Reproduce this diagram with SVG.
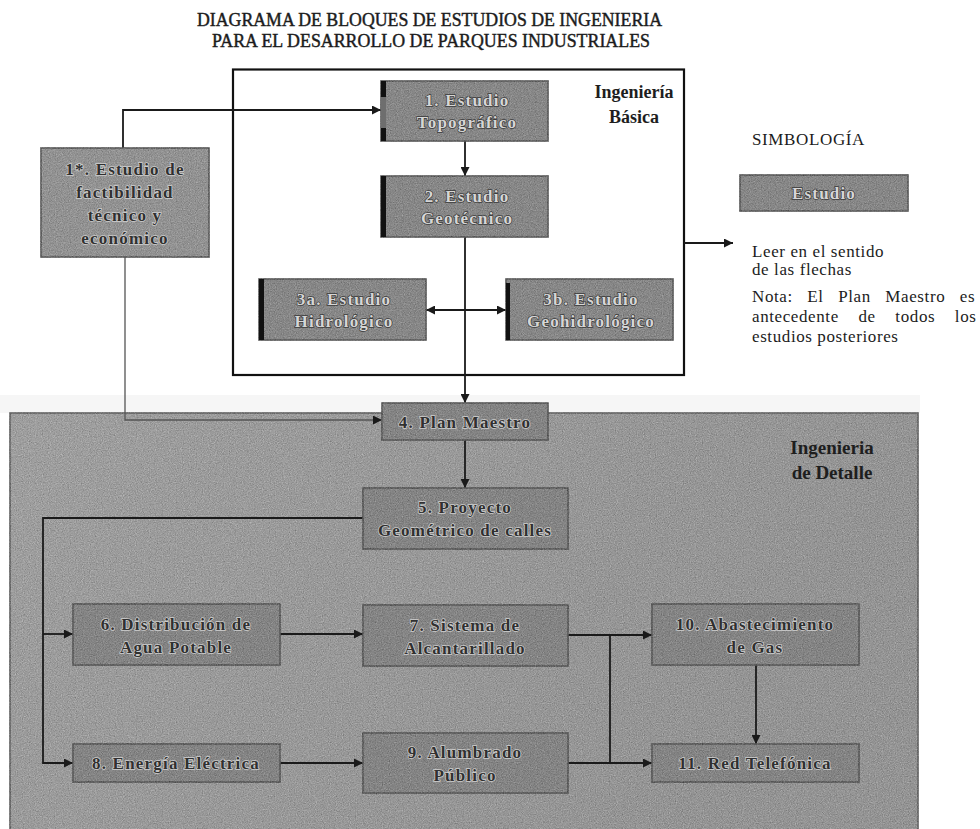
<svg xmlns="http://www.w3.org/2000/svg" width="980" height="829" viewBox="0 0 980 829">
  <style>
    .title { font-family: "Liberation Serif", "DejaVu Serif", serif; font-size: 19px; fill: #1c1c1c; stroke: #1c1c1c; stroke-width: 0.45px; }
    .legend { font-family: "Liberation Serif", "DejaVu Serif", serif; font-size: 17px; fill: #1c1c1c; letter-spacing: 0.6px; }
    .zone { font-family: "Liberation Serif", "DejaVu Serif", serif; font-weight: bold; font-size: 19px; fill: #1e1e1e; text-anchor: middle; }
    .box { stroke: #4a4a4a; stroke-width: 1.5; }
    .top { fill: #8a8a8a; }
    .low { fill: #858585; }
    .pale { fill: #999999; }
    .bar { fill: #111111; }
    .lbl { font-family: "Liberation Serif", "DejaVu Serif", serif; font-weight: bold; font-size: 17px; letter-spacing: 1.2px; text-anchor: middle; paint-order: stroke; }
    .lt { fill: #d6d6d6; stroke: #3a3a3a; stroke-width: 1.4px; }
    .dk { fill: #303030; stroke: #cfcfcf; stroke-width: 1.5px; }
    .wire { fill: none; stroke: #1a1a1a; stroke-width: 1.8; }
    .thin { fill: none; stroke: #555555; stroke-width: 1.3; }
  </style>
  <defs>
    <marker id="ah" viewBox="0 0 10 10" refX="10" refY="5" markerWidth="10" markerHeight="9" markerUnits="userSpaceOnUse" orient="auto-start-reverse">
      <path d="M0,0 L10,5 L0,10 z" fill="#1a1a1a"/>
    </marker>
    <filter id="grain" color-interpolation-filters="sRGB">
      <feTurbulence type="fractalNoise" baseFrequency="0.85" numOctaves="2" seed="7" result="noise"/>
      <feColorMatrix in="noise" type="matrix" values="0.6 0.6 0.6 0 -0.4  0.6 0.6 0.6 0 -0.4  0.6 0.6 0.6 0 -0.4  0 0 0 0 0.28" result="gray"/>
      <feComposite in="gray" in2="SourceGraphic" operator="in" result="speck"/>
      <feMerge><feMergeNode in="SourceGraphic"/><feMergeNode in="speck"/></feMerge>
    </filter>
    <linearGradient id="panelFill" x1="0" y1="0" x2="1" y2="0.3">
      <stop offset="0" stop-color="#aaaaaa"/>
      <stop offset="0.5" stop-color="#a2a2a2"/>
      <stop offset="1" stop-color="#9b9b9b"/>
    </linearGradient>
  </defs>

  <rect width="980" height="829" fill="#ffffff"/>

  <!-- title -->
  <g id="title">
    <text class="title" x="197" y="26" textLength="465" lengthAdjust="spacingAndGlyphs">DIAGRAMA DE BLOQUES DE ESTUDIOS DE INGENIERIA</text>
    <text class="title" x="212" y="47" textLength="438" lengthAdjust="spacingAndGlyphs">PARA EL DESARROLLO DE PARQUES INDUSTRIALES</text>
  </g>

  <!-- detail engineering panel -->
  <g id="zone-detalle">
    <rect x="0" y="395" width="920" height="18" fill="#f6f6f6"/>
    <rect x="10" y="413" width="908" height="430" fill="url(#panelFill)" stroke="#555" stroke-width="1.5" filter="url(#grain)"/>
    <text class="zone" x="832" y="454">Ingenieria</text>
    <text class="zone" x="832" y="479">de Detalle</text>
  </g>

  <!-- basic engineering frame -->
  <g id="zone-basica">
    <rect x="233" y="69.5" width="451" height="305.5" fill="none" stroke="#111" stroke-width="2.2"/>
    <text class="zone" x="634" y="98" style="font-size:18px">Ingeniería</text>
    <text class="zone" x="634" y="123" style="font-size:18px">Básica</text>
  </g>

  <!-- connectors -->
  <g id="connectors">
    <path class="wire" d="M123,148 V110 H381" marker-end="url(#ah)"/>
    <path class="thin" d="M125,257 V420 H382" marker-end="url(#ah)"/>
    <path class="wire" d="M465,141 V176" marker-end="url(#ah)"/>
    <path class="wire" d="M465,237 V403" marker-end="url(#ah)"/>
    <path class="wire" d="M426,310 H506" marker-start="url(#ah)" marker-end="url(#ah)"/>
    <path class="wire" d="M465,440 V488" marker-end="url(#ah)"/>
    <path class="wire" d="M363,518 H43 V763 H73" marker-end="url(#ah)"/>
    <path class="wire" d="M43,634 H73" marker-end="url(#ah)"/>
    <path class="wire" d="M280,634 H363" marker-end="url(#ah)"/>
    <path class="wire" d="M280,763 H363" marker-end="url(#ah)"/>
    <path class="wire" d="M568,635 H652" marker-end="url(#ah)"/>
    <path class="wire" d="M568,763 H652" marker-end="url(#ah)"/>
    <path class="wire" d="M610,635 V763"/>
    <path class="wire" d="M756,665 V744" marker-end="url(#ah)"/>
    <path class="wire" d="M684,243 H733" marker-end="url(#ah)"/>
  </g>

  <!-- 1*. feasibility study -->
  <g id="n1s">
    <rect class="box pale" x="41" y="148" width="168" height="109" filter="url(#grain)"/>
    <text class="lbl dk" x="125" y="175">1*. Estudio de</text>
    <text class="lbl dk" x="125" y="198">factibilidad</text>
    <text class="lbl dk" x="125" y="221">técnico y</text>
    <text class="lbl dk" x="125" y="244">económico</text>
  </g>

  <!-- 1. topographic study -->
  <g id="n1">
    <rect class="box top" x="381" y="81" width="167" height="60" filter="url(#grain)"/>
    <rect class="bar" x="381" y="81" width="5" height="16"/>
    <rect x="381" y="97" width="5" height="31" fill="#6e6e6e"/>
    <rect class="bar" x="381" y="128" width="5" height="13"/>
    <text class="lbl lt" x="467" y="106">1. Estudio</text>
    <text class="lbl lt" x="467" y="128">Topográfico</text>
  </g>

  <!-- 2. geotechnical study -->
  <g id="n2">
    <rect class="box top" x="381" y="176" width="167" height="61" filter="url(#grain)"/>
    <rect class="bar" x="381" y="176" width="5" height="61"/>
    <text class="lbl lt" x="467" y="202">2. Estudio</text>
    <text class="lbl lt" x="467" y="224">Geotécnico</text>
  </g>

  <!-- 3a. hydrological study -->
  <g id="n3a">
    <rect class="box top" x="259" y="279" width="167" height="61" filter="url(#grain)"/>
    <rect class="bar" x="259" y="279" width="5" height="61"/>
    <text class="lbl lt" x="344" y="305">3a. Estudio</text>
    <text class="lbl lt" x="344" y="327">Hidrológico</text>
  </g>

  <!-- 3b. geohydrological study -->
  <g id="n3b">
    <rect class="box top" x="506" y="279" width="167" height="61" filter="url(#grain)"/>
    <rect class="bar" x="506" y="283" width="4" height="57"/>
    <text class="lbl lt" x="591" y="305">3b. Estudio</text>
    <text class="lbl lt" x="591" y="327">Geohidrológico</text>
  </g>

  <!-- 4. master plan -->
  <g id="n4">
    <rect class="box low" x="382" y="403" width="166" height="37" filter="url(#grain)"/>
    <text class="lbl dk" x="465" y="428">4. Plan Maestro</text>
  </g>

  <!-- 5. street geometry -->
  <g id="n5">
    <rect class="box low" x="363" y="488" width="205" height="61" filter="url(#grain)"/>
    <text class="lbl dk" x="465" y="513">5. Proyecto</text>
    <text class="lbl dk" x="465" y="536">Geométrico de calles</text>
  </g>

  <!-- 6. drinking water -->
  <g id="n6">
    <rect class="box low" x="73" y="604" width="207" height="61" filter="url(#grain)"/>
    <text class="lbl dk" x="176" y="630">6. Distribución de</text>
    <text class="lbl dk" x="176" y="653">Agua Potable</text>
  </g>

  <!-- 7. sewerage -->
  <g id="n7">
    <rect class="box low" x="363" y="605" width="205" height="61" filter="url(#grain)"/>
    <text class="lbl dk" x="465" y="631">7. Sistema de</text>
    <text class="lbl dk" x="465" y="654">Alcantarillado</text>
  </g>

  <!-- 8. electric power -->
  <g id="n8">
    <rect class="box low" x="73" y="744" width="207" height="38" filter="url(#grain)"/>
    <text class="lbl dk" x="176" y="769">8. Energía Eléctrica</text>
  </g>

  <!-- 9. street lighting -->
  <g id="n9">
    <rect class="box low" x="363" y="733" width="205" height="60" filter="url(#grain)"/>
    <text class="lbl dk" x="465" y="758">9. Alumbrado</text>
    <text class="lbl dk" x="465" y="781">Público</text>
  </g>

  <!-- 10. gas supply -->
  <g id="n10">
    <rect class="box low" x="652" y="604" width="207" height="61" filter="url(#grain)"/>
    <text class="lbl dk" x="755" y="630">10. Abastecimiento</text>
    <text class="lbl dk" x="755" y="653">de Gas</text>
  </g>

  <!-- 11. telephone network -->
  <g id="n11">
    <rect class="box low" x="652" y="744" width="207" height="38" filter="url(#grain)"/>
    <text class="lbl dk" x="755" y="769">11. Red Telefónica</text>
  </g>

  <!-- legend: justified note uses widened word gaps -->
  <g id="legend">
    <text class="legend" x="752" y="145" textLength="113">SIMBOLOGÍA</text>
    <rect class="box top" x="740" y="175" width="168" height="36" filter="url(#grain)"/>
    <text class="lbl lt" x="824" y="199">Estudio</text>
    <text class="legend" x="752" y="257">Leer en el sentido</text>
    <text class="legend" x="752" y="275">de las flechas</text>
    <text class="legend" x="752" y="302" style="word-spacing:9.7px">Nota: El Plan Maestro es</text>
    <text class="legend" x="752" y="322" style="word-spacing:14.8px">antecedente de todos los</text>
    <text class="legend" x="752" y="342">estudios posteriores</text>
  </g>
</svg>
